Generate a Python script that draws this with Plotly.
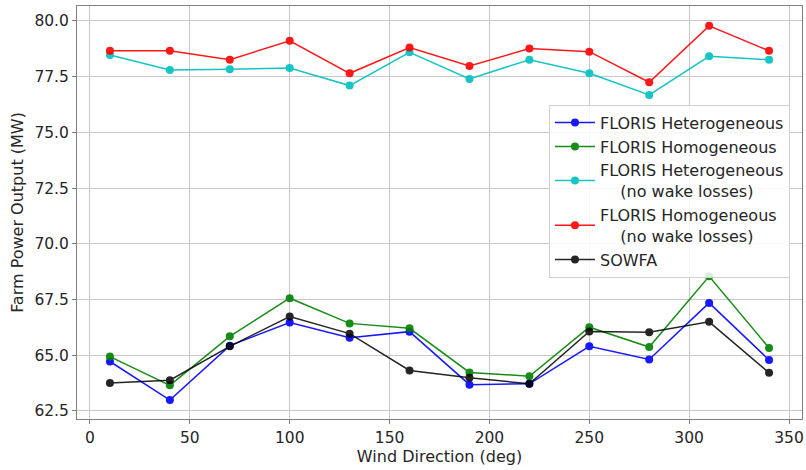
import plotly.graph_objects as go

wind_dir = [10, 40, 70, 100, 130, 160, 190, 220, 250, 280, 310, 340]
floris_het = [64.72, 62.99, 65.43, 66.47, 65.79, 66.06, 63.68, 63.72, 65.40, 64.81, 67.35, 64.79]
floris_hom = [64.94, 63.65, 65.85, 67.56, 66.43, 66.21, 64.23, 64.06, 66.26, 65.37, 68.54, 65.33]
floris_het_nowake = [78.47, 77.80, 77.83, 77.89, 77.10, 78.59, 77.40, 78.26, 77.65, 76.68, 78.41, 78.26]
floris_hom_nowake = [78.66, 78.66, 78.26, 79.11, 77.65, 78.81, 77.98, 78.76, 78.62, 77.25, 79.78, 78.66]
sowfa = [63.76, 63.88, 65.40, 66.74, 65.97, 64.32, 63.99, 63.72, 66.07, 66.03, 66.50, 64.21]
y_ticks = [62.5, 65.0, 67.5, 70.0, 72.5, 75.0, 77.5, 80.0]
x_ticks = [0, 50, 100, 150, 200, 250, 300, 350]

NB = "\u00a0"
series = [
    ("FLORIS Heterogeneous", floris_het, "#0000ff"),
    ("FLORIS Homogeneous", floris_hom, "#008000"),
    ("FLORIS Heterogeneous<br>" + NB * 4 + "(no wake losses)", floris_het_nowake, "#00bfbf"),
    ("FLORIS Homogeneous<br>" + NB * 4 + "(no wake losses)", floris_hom_nowake, "#ff0000"),
    ("SOWFA", sowfa, "#000000"),
]

fig = go.Figure()
for name, vals, col in series:
    fig.add_trace(go.Scatter(
        x=wind_dir, y=vals, name=name, mode="lines+markers",
        line=dict(color=col, width=1.5),
        marker=dict(color=col, size=8),
        opacity=0.9 if col != "#000000" else 0.85,
    ))

font = "DejaVu Sans"
fig.update_layout(
    width=806, height=470,
    margin=dict(l=77, r=2, t=6, b=51),
    paper_bgcolor="white", plot_bgcolor="white",
    font=dict(family=font, size=15.5, color="#262626"),
    showlegend=True,
    legend=dict(
        x=0.651, y=0.761, xanchor="left", yanchor="top",
        bgcolor="rgba(255,255,255,0.85)", bordercolor="#d0d0d0", borderwidth=1,
        font=dict(family=font, size=16, color="#262626"),
        tracegroupgap=0, itemwidth=40,
    ),
    xaxis=dict(
        range=[-6.5, 356.5], tickvals=x_ticks, ticktext=[str(v) for v in x_ticks],
        showgrid=True, gridcolor="#c8c8c8", gridwidth=1,
        showline=True, linecolor="#808080", linewidth=1, mirror=True,
        ticks="outside", ticklen=4, tickcolor="#808080",
        ticklabeloverflow="allow",
        zeroline=False,
        title=dict(text="Wind Direction (deg)", font=dict(size=16), standoff=4),
    ),
    yaxis=dict(
        range=[62.14, 80.67], tickvals=y_ticks, ticktext=[f"{v:.1f}" for v in y_ticks],
        showgrid=True, gridcolor="#c8c8c8", gridwidth=1,
        showline=True, linecolor="#808080", linewidth=1, mirror=True,
        ticks="outside", ticklen=4, tickcolor="#808080",
        zeroline=False,
        title=dict(text="Farm Power Output (MW)", font=dict(size=16), standoff=6),
    ),
)

fig.write_html("out.html", config={"displayModeBar": False},
               post_script="document.body.style.margin='0';")
